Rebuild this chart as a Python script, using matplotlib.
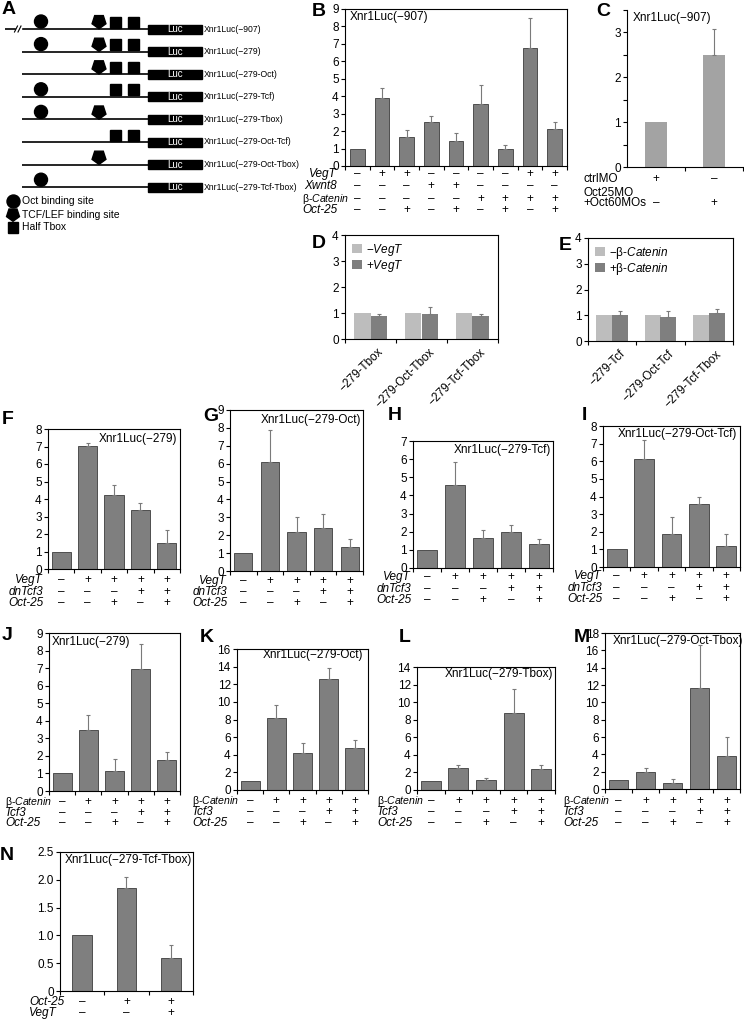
import numpy as np
import matplotlib
matplotlib.use('Agg')
import matplotlib.pyplot as plt
from matplotlib.patches import Circle, RegularPolygon, Rectangle
from matplotlib.transforms import blended_transform_factory, ScaledTranslation

plt.rcParams['font.family'] = ['Liberation Sans', 'DejaVu Sans']
plt.rcParams['mathtext.fontset'] = 'custom'
plt.rcParams['mathtext.rm'] = 'Liberation Sans'
plt.rcParams['mathtext.it'] = 'Liberation Sans:italic'
plt.rcParams['mathtext.bf'] = 'Liberation Sans:bold'
plt.rcParams['axes.linewidth'] = 0.8

W, H = 744, 1019
fig = plt.figure(figsize=(W / 100, H / 100), dpi=100)

BETA = 'β-$\\mathit{Catenin}$'

# ---------------- data ----------------
# Panel A constructs: which sites present (oct, tcf, tbox)
constructs = ['Xnr1Luc(−907)', 'Xnr1Luc(−279)', 'Xnr1Luc(−279-Oct)', 'Xnr1Luc(−279-Tcf)',
              'Xnr1Luc(−279-Tbox)', 'Xnr1Luc(−279-Oct-Tcf)', 'Xnr1Luc(−279-Oct-Tbox)',
              'Xnr1Luc(−279-Tcf-Tbox)']
has_oct = [1, 1, 0, 1, 1, 0, 0, 1]
has_tcf = [1, 1, 1, 0, 1, 0, 1, 0]
has_tbox = [1, 1, 1, 1, 0, 1, 0, 0]

B_vals = [1.0, 3.9, 1.65, 2.5, 1.45, 3.55, 1.0, 6.75, 2.1]
B_errs = [0, 0.55, 0.4, 0.35, 0.45, 1.1, 0.2, 1.75, 0.45]
B_vegt = '-++----++'
B_xwnt8 = '---++----'
B_bcat = '-----++++'
B_oct25 = '--+-+-+-+'

C_vals = [1.0, 2.5]
C_errs = [0, 0.57]
C_ctrl = '+-'
C_octmo = '-+'

D_cats = ['−279-Tbox', '−279-Oct-Tbox', '−279-Tcf-Tbox']
D_minus = [1.0, 1.0, 1.0]
D_plus = [0.87, 0.95, 0.9]
D_plus_err = [0.08, 0.27, 0.08]

E_cats = ['−279-Tcf', '−279-Oct-Tcf', '−279-Tcf-Tbox']
E_minus = [1.0, 1.0, 1.0]
E_plus = [1.02, 0.95, 1.1]
E_plus_err = [0.13, 0.2, 0.15]

F_vals = [1.0, 7.05, 4.25, 3.4, 1.5]
F_errs = [0, 0.15, 0.55, 0.4, 0.75]
G_vals = [1.0, 6.1, 2.2, 2.4, 1.35]
G_errs = [0, 1.8, 0.8, 0.8, 0.45]
H_vals = [1.0, 4.6, 1.65, 2.0, 1.35]
H_errs = [0, 1.25, 0.45, 0.35, 0.25]
I_vals = [1.0, 6.15, 1.85, 3.6, 1.2]
I_errs = [0, 1.05, 1.0, 0.4, 0.65]
row1_vegt = '-++++'
row1_dntcf3 = '---++'
row1_oct25 = '--+-+'

J_vals = [1.0, 3.45, 1.15, 6.95, 1.75]
J_errs = [0, 0.9, 0.65, 1.4, 0.5]
K_vals = [1.0, 8.2, 4.25, 12.6, 4.8]
K_errs = [0, 1.4, 1.05, 1.2, 0.9]
L_vals = [1.0, 2.5, 1.1, 8.75, 2.35]
L_errs = [0, 0.4, 0.3, 2.75, 0.45]
M_vals = [1.0, 2.0, 0.75, 11.7, 3.8]
M_errs = [0, 0.45, 0.35, 4.9, 2.2]
row2_bcat = '-++++'
row2_tcf3 = '---++'
row2_oct25 = '--+-+'

N_vals = [1.0, 1.85, 0.6]
N_errs = [0, 0.2, 0.22]
N_oct25 = '-++'
N_vegt = '--+'

DARK = '#7f7f7f'
EDGE = '#3c3c3c'
LIGHT = '#bdbdbd'
ECOL = '#7a7a7a'
FS = 8.5


def fx(x):
    return x / W


def fy(y):
    return 1 - y / H


def px_axes(l, t, r, b):
    return fig.add_axes([l / W, 1 - b / H, (r - l) / W, (b - t) / H])


def letter(x, y, s):
    fig.text(fx(x), fy(y), s, fontsize=14, fontweight='bold', ha='left', va='center')


def style_axes(ax, box=True):
    for side in ['top', 'right']:
        ax.spines[side].set_visible(box)
    ax.tick_params(direction='out', length=3, width=0.8, labelsize=FS, pad=1.5)


def bars(ax, vals, errs, ymax, ystep, width, color=DARK, edge=EDGE, box=True):
    n = len(vals)
    x = np.arange(n)
    ax.bar(x, vals, width, color=color, edgecolor=edge, linewidth=0.6, zorder=2)
    e = np.asarray(errs, float)
    m = e > 0
    ax.errorbar(x[m], np.asarray(vals)[m], yerr=[np.zeros(m.sum()), e[m]], fmt='none',
                ecolor=ECOL, elinewidth=0.8, capsize=1.5, capthick=0.8, zorder=3)
    ax.set_xlim(-0.5, n - 0.5)
    ax.set_ylim(0, ymax)
    ax.set_yticks(np.arange(0, ymax + 1e-9, ystep))
    ax.set_xticks(np.arange(n + 1) - 0.5)
    ax.set_xticklabels([])
    style_axes(ax, box)


def sign_rows(ax, rows):
    tr = blended_transform_factory(ax.transData, fig.transFigure)
    for label, signs, y, lx, ha in rows:
        if label:
            st = 'normal' if '$' in label else 'italic'
            fs = 7.6 if '$' in label else FS
            fig.text(fx(lx), fy(y), label, ha=ha, va='center', fontsize=fs, style=st)
        if signs:
            for i, s in enumerate(signs):
                ax.text(i, fy(y), '+' if s == '+' else '–', transform=tr,
                        ha='center', va='center', fontsize=FS)


def title(x, y, s, ha):
    fig.text(fx(x), fy(y), s, ha=ha, va='center', fontsize=FS)


# ---------------- Panel A ----------------
axA = px_axes(0, 0, 230, 240)
axA.set_xlim(0, 230)
axA.set_ylim(240, 0)
axA.axis('off')
for i, name in enumerate(constructs):
    y = 29 + 22.6 * i
    x0 = 5 if i == 0 else 22
    axA.plot([x0, 148], [y, y], color='black', lw=1.2, solid_capstyle='butt')
    if i == 0:
        axA.add_patch(Rectangle((16, y - 3), 5, 6, color='white', zorder=3))
        for xx in (16, 19.5):
            axA.plot([xx - 1.5, xx + 1.5], [y + 3, y - 3], color='black', lw=0.8, zorder=4)
    axA.add_patch(Rectangle((148, y - 4.5), 54, 9, color='black'))
    axA.text(175, y, 'Luc', color='white', ha='center', va='center', fontsize=7)
    axA.text(204, y, name, ha='left', va='center', fontsize=6.2)
    if has_oct[i]:
        axA.add_patch(Circle((41, y - 7.5), 6.5, color='black'))
    if has_tcf[i]:
        axA.add_patch(RegularPolygon((99, y - 7.5), 5, radius=7.3, color='black'))
    if has_tbox[i]:
        for sx in (110, 128):
            axA.add_patch(Rectangle((sx, y - 12.5), 11, 11, color='black'))
axA.add_patch(Circle((13.5, 201.5), 6.5, color='black'))
axA.add_patch(RegularPolygon((13, 214.5), 5, radius=6.8, color='black'))
axA.add_patch(Rectangle((7.5, 222), 10.5, 10.5, color='black'))
axA.text(22, 201.5, 'Oct binding site', ha='left', va='center', fontsize=7.5)
axA.text(22, 214.5, 'TCF/LEF binding site', ha='left', va='center', fontsize=7.5)
axA.text(22, 227.5, 'Half Tbox', ha='left', va='center', fontsize=7.5)
letter(2, 10, 'A')

# ---------------- Panel B ----------------
axB = px_axes(345, 9, 567, 166)
bars(axB, B_vals, B_errs, 9, 1, 0.6)
title(350, 17, 'Xnr1Luc(−907)', 'left')
sign_rows(axB, [('VegT', B_vegt, 174, 337, 'right'),
                ('Xwnt8', B_xwnt8, 186, 337, 'right'),
                (BETA, B_bcat, 199, 349, 'right'),
                ('Oct-25', B_oct25, 210, 337, 'right')])
letter(312, 12, 'B')

# ---------------- Panel C ----------------
axC = px_axes(627, 10, 743, 167)
bars(axC, C_vals, C_errs, 3.5, 1, 0.38, color='#a3a3a3', edge='none', box=False)
axC.set_yticks(np.arange(0, 3.6, 0.5), minor=True)
axC.tick_params(which='minor', direction='out', length=3, width=0.8)
axC.set_yticks([0, 1, 2, 3])
axC.set_xticks([0.5, 1.5])
title(633, 18, 'Xnr1Luc(−907)', 'left')
fig.text(fx(583), fy(179), 'ctrlMO', ha='left', va='center', fontsize=FS)
fig.text(fx(583), fy(193), 'Oct25MO', ha='left', va='center', fontsize=FS)
fig.text(fx(583), fy(203), '+Oct60MOs', ha='left', va='center', fontsize=FS)
sign_rows(axC, [(None, C_ctrl, 179, 0, 'left'), (None, C_octmo, 203, 0, 'left')])
letter(596, 11, 'C')


# ---------------- Panels D, E ----------------
def grouped(ax, cats, minus, plus, perr, labels):
    n = len(cats)
    x = np.arange(n)
    w = 0.33
    ax.bar(x - w / 2, minus, w, color=LIGHT, label=labels[0], zorder=2)
    ax.bar(x + w / 2, plus, w, color=DARK, label=labels[1], zorder=2)
    ax.errorbar(x + w / 2, plus, yerr=[np.zeros(n), perr], fmt='none', ecolor=ECOL,
                elinewidth=0.8, capsize=1.5, capthick=0.8, zorder=3)
    ax.set_xlim(-0.5, n - 0.5)
    ax.set_ylim(0, 4)
    ax.set_yticks([0, 1, 2, 3, 4])
    ax.set_xticks(x)
    ax.set_xticklabels(cats, rotation=45, ha='right', va='top', rotation_mode='anchor',
                       fontsize=8)
    ax.set_xticks(np.arange(n + 1) - 0.5, minor=True)
    style_axes(ax, True)
    ax.tick_params(axis='x', which='major', length=0, pad=5)
    ax.tick_params(axis='x', which='minor', direction='out', length=3, width=0.8)
    off = ScaledTranslation(7 / 100, 0, fig.dpi_scale_trans)
    for lab in ax.get_xticklabels():
        lab.set_transform(lab.get_transform() + off)
    ax.legend(loc='upper left', frameon=False, fontsize=FS, handlelength=0.8,
              handleheight=0.8, labelspacing=0.0, borderpad=0.1, handletextpad=0.4,
              borderaxespad=0.5)


axD = px_axes(345, 235, 498, 339)
grouped(axD, D_cats, D_minus, D_plus, D_plus_err, ['−$\\mathit{VegT}$', '+$\\mathit{VegT}$'])
letter(312, 243, 'D')

axE = px_axes(588, 238, 733, 341)
grouped(axE, E_cats, E_minus, E_plus, E_plus_err, ['−' + BETA, '+' + BETA])
letter(559, 245, 'E')

# ---------------- Row F-I ----------------
panels1 = [
    ('F', (48, 429, 180, 569), F_vals, F_errs, 8, 0.72, 'Xnr1Luc(−279)', (177, 439, 'right'),
     [580, 592, 603], 43, (2, 419)),
    ('G', (230, 410, 363, 571), G_vals, G_errs, 9, 0.69, 'Xnr1Luc(−279-Oct)', (361, 420, 'right'),
     [581, 592, 603], 227, (203, 417)),
    ('H', (413, 441, 553, 568), H_vals, H_errs, 7, 0.72, 'Xnr1Luc(−279-Tcf)', (551, 450, 'right'),
     [577, 589, 600], 411, (388, 416)),
    ('I', (603, 426, 740, 567), I_vals, I_errs, 8, 0.72, 'Xnr1Luc(−279-Oct-Tcf)', (737, 434, 'right'),
     [576, 588, 599], 602, (582, 416)),
]
for let, box, vals, errs, ymax, w, ttl, tpos, ys, lx, lpos in panels1:
    ax = px_axes(*box)
    bars(ax, vals, errs, ymax, 1, w)
    title(tpos[0], tpos[1], ttl, tpos[2])
    sign_rows(ax, [('VegT', row1_vegt, ys[0], lx, 'right'),
                   ('dnTcf3', row1_dntcf3, ys[1], lx, 'right'),
                   ('Oct-25', row1_oct25, ys[2], lx, 'right')])
    letter(lpos[0], lpos[1], let)

# ---------------- Row J-M ----------------
panels2 = [
    ('J', (49, 633, 180, 791), J_vals, J_errs, 9, 1, 0.72, 'Xnr1Luc(−279)', (52, 642, 'left'),
     [802, 813, 823], 5, (2, 635)),
    ('K', (237, 649, 368, 790), K_vals, K_errs, 16, 2, 0.72, 'Xnr1Luc(−279-Oct)', (363, 655, 'right'),
     [801, 812, 823], 192, (200, 638)),
    ('L', (417, 667, 555, 790), L_vals, L_errs, 14, 2, 0.72, 'Xnr1Luc(−279-Tbox)', (553, 674, 'right'),
     [801, 812, 823], 377, (399, 638)),
    ('M', (605, 633, 740, 789), M_vals, M_errs, 18, 2, 0.72, 'Xnr1Luc(−279-Oct-Tbox)', (613, 641, 'left'),
     [801, 812, 823], 563, (574, 638)),
]
for let, box, vals, errs, ymax, step, w, ttl, tpos, ys, lx, lpos in panels2:
    ax = px_axes(*box)
    bars(ax, vals, errs, ymax, step, w)
    title(tpos[0], tpos[1], ttl, tpos[2])
    sign_rows(ax, [(BETA, row2_bcat, ys[0], lx, 'left'),
                   ('Tcf3', row2_tcf3, ys[1], lx, 'left'),
                   ('Oct-25', row2_oct25, ys[2], lx, 'left')])
    letter(lpos[0], lpos[1], let)

# ---------------- Panel N ----------------
axN = px_axes(60, 852, 193, 991)
bars(axN, N_vals, N_errs, 2.5, 0.5, 0.44)
axN.set_yticklabels(['0', '0.5', '1.0', '1.5', '2.0', '2.5'])
title(65, 860, 'Xnr1Luc(−279-Tcf-Tbox)', 'left')
sign_rows(axN, [('Oct-25', N_oct25, 1002, 29, 'left'),
                ('VegT', N_vegt, 1013, 29, 'left')])
letter(0, 855, 'N')

fig.savefig('out.png', dpi=100)
